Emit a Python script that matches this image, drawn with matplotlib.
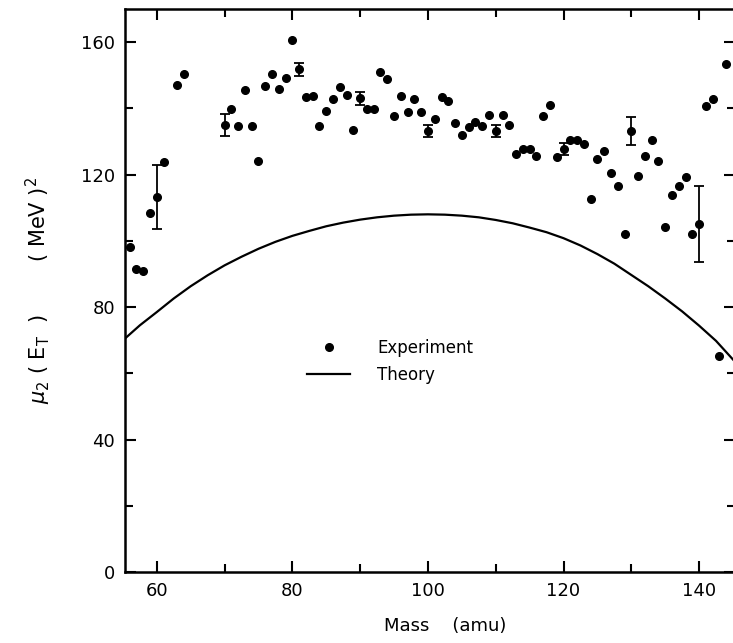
import matplotlib
matplotlib.use("Agg")
import matplotlib.pyplot as plt
from matplotlib.lines import Line2D
from matplotlib.ticker import MultipleLocator

# experiment points without error bars (mass in amu, mu2 in MeV^2)
mass = [56, 57, 58, 59, 61, 63, 64,
        71, 72, 73, 74, 75, 76, 77, 78, 79, 80,
        82, 83, 84, 85, 86, 87, 88, 89,
        91, 92, 93, 94, 95, 96, 97, 98, 99,
        101, 102, 103, 104, 105, 106, 107, 108, 109,
        111, 112, 113, 114, 115, 116, 117, 118, 119,
        121, 122, 123, 124, 125, 126, 127, 128, 129,
        131, 132, 133, 134, 135, 136, 137, 138, 139,
        141, 142, 143, 144]
mu2 = [98.1, 91.5, 90.8, 108.5, 123.7, 147.0, 150.4,
       139.9, 134.7, 145.4, 134.6, 124.1, 146.8, 150.4, 145.9, 149.1, 160.7,
       143.4, 143.6, 134.6, 139.3, 142.8, 146.4, 144.0, 133.4,
       139.8, 139.8, 151.1, 148.8, 137.7, 143.7, 138.8, 142.8, 139.0,
       136.9, 143.3, 142.2, 135.5, 132.1, 134.3, 136.0, 134.6, 137.9,
       138.0, 135.0, 126.3, 127.6, 127.6, 125.7, 137.7, 141.1, 125.2,
       130.4, 130.5, 129.1, 112.5, 124.7, 127.2, 120.4, 116.6, 102.2,
       119.7, 125.7, 130.3, 124.2, 104.1, 113.8, 116.5, 119.3, 102.2,
       140.8, 142.9, 65.3, 153.4]

# experiment points with error bars
eb_mass = [60, 70, 81, 90, 100, 110, 120, 130, 140]
eb_mu2 = [113.3, 135.0, 151.8, 143.0, 133.2, 133.1, 127.7, 133.1, 105.1]
eb_err = [9.7, 3.4, 1.9, 1.9, 1.8, 1.8, 1.8, 4.3, 11.4]

# theory curve
th_mass = [55.3, 57.5, 60, 62.5, 65, 67.5, 70, 72.5, 75, 77.5, 80, 82.5,
           85, 87.5, 90, 92.5, 95, 97.5, 100, 102.5, 105, 107.5, 110, 112.5,
           115, 117.5, 120, 122.5, 125, 127.5, 130, 132.5, 135, 137.5, 140,
           142.5, 145.3]
th_mu2 = [70.5, 74.5, 78.5, 82.6, 86.3, 89.6, 92.6, 95.2, 97.6, 99.7, 101.5, 103.0,
          104.4, 105.5, 106.4, 107.1, 107.6, 107.9, 108.0, 107.9, 107.6, 107.1, 106.3, 105.3,
          104.0, 102.6, 100.8, 98.6, 96.0, 93.1, 89.7, 86.3, 82.6, 78.7, 74.4,
          69.8, 63.5]

fig = plt.figure(figsize=(7.33, 6.43), dpi=100)
ax = fig.add_axes([0.1705, 0.1104, 0.8322, 0.8756])

ax.plot(th_mass, th_mu2, color="black", lw=1.6)
ax.plot(mass, mu2, "o", color="black", ms=5.5, ls="none")
ax.errorbar(eb_mass, eb_mu2, yerr=eb_err, fmt="o", color="black", ms=5.5,
            elinewidth=1.3, capsize=3.5, capthick=1.3)

ax.set_xlim(55.3, 145.3)
ax.set_ylim(0, 170)
ax.xaxis.set_major_locator(MultipleLocator(20))
ax.xaxis.set_minor_locator(MultipleLocator(10))
ax.yaxis.set_major_locator(MultipleLocator(40))
ax.yaxis.set_minor_locator(MultipleLocator(20))
ax.tick_params(which="both", direction="in", top=True, right=True, width=1.5,
               labelsize=13, pad=7)
ax.tick_params(which="major", length=8)
ax.tick_params(which="minor", length=5.5)
for s in ax.spines.values():
    s.set_linewidth(1.8)

ax.set_xlabel("Mass    (amu)", fontsize=13)
ax.xaxis.set_label_coords(0.525, -0.08)
ax.set_ylabel(r"$\mu_2$ ( E$_\mathrm{T}$  )        ( MeV )$^2$", fontsize=15)
ax.yaxis.set_label_coords(-0.118, 0.5)

handles = [Line2D([], [], marker="o", color="black", ls="none", ms=5.5),
           Line2D([], [], color="black", lw=1.6)]
ax.legend(handles, ["Experiment", "Theory"], frameon=False, fontsize=12,
          loc="upper left", bbox_to_anchor=(0.274, 0.44), handlelength=2.6,
          handletextpad=1.6, labelspacing=0.5)

fig.savefig("out.png", dpi=100)
